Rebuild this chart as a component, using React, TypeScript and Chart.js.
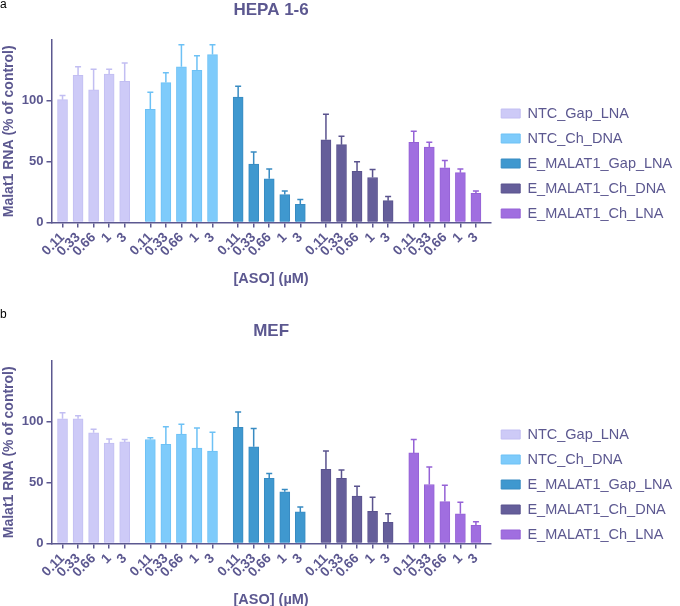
import React, { useEffect, useRef } from 'react';
import { Chart, registerables } from 'chart.js';

Chart.register(...registerables);

// dose labels and series
const doses = ['0.11', '0.33', '0.66', '1', '3'];
const seriesNames = ['NTC_Gap_LNA', 'NTC_Ch_DNA', 'E_MALAT1_Gap_LNA', 'E_MALAT1_Ch_DNA', 'E_MALAT1_Ch_LNA'];
const yTickValues = [0, 50, 100];

// panel a: HEPA 1-6 (mean, upper error)
const hepaMeans = [
  [101, 121, 109, 122, 116],
  [93, 115, 128, 125, 138],
  [103, 48, 36, 23, 15],
  [68, 64, 42, 37, 18],
  [66, 62, 45, 41, 24],
];
const hepaErrors = [
  [3.5, 7, 17, 4, 15],
  [14, 8, 18, 12, 8],
  [9, 10, 8, 3, 4],
  [21, 7, 8, 6.5, 3.5],
  [9, 4, 6, 3, 2],
];

// panel b: MEF
const mefMeans = [
  [102.5, 102.5, 91, 82.5, 83.5],
  [85.5, 81.5, 90, 78.5, 76],
  [95.5, 79.5, 53.5, 42.5, 26],
  [61, 53.5, 39, 26.5, 17.5],
  [74.5, 48.5, 34.5, 24.5, 15],
];
const mefErrors = [
  [5, 2.5, 3, 3.5, 2],
  [1.5, 14.5, 8, 16.5, 15.5],
  [12.5, 15, 4, 2, 4],
  [15, 7, 8, 11.5, 7],
  [11, 14.5, 13.5, 9.5, 3],
];

const barColors = ['#cdcaf7', '#7ecbfb', '#3f98cf', '#655e9a', '#a06ee0'];
const barBorders = ['#c2bef2', '#6dc1f5', '#388bc2', '#5a538e', '#9562d6'];
const INK = '#5c5890';
const FONT = "'Liberation Sans', Arial, Helvetica, sans-serif";
const GROUP_STRIDE = 5.65; // slots between first bars of neighbouring groups

const errorBarPlugin = {
  id: 'errorBars',
  afterDatasetsDraw(chart: any) {
    const { ctx } = chart;
    const yScale = chart.scales.y;
    chart.data.datasets.forEach((ds: any, i: number) => {
      const meta = chart.getDatasetMeta(i);
      ctx.save();
      ctx.strokeStyle = ds.borderColor;
      ctx.lineWidth = 1.5;
      meta.data.forEach((bar: any, j: number) => {
        const top = yScale.getPixelForValue(ds.data[j].y + ds.errors[j]);
        ctx.beginPath();
        ctx.moveTo(bar.x, bar.y);
        ctx.lineTo(bar.x, top);
        ctx.moveTo(bar.x - 3, top);
        ctx.lineTo(bar.x + 3, top);
        ctx.stroke();
      });
      ctx.restore();
    });
  },
};

interface PanelProps {
  title: string;
  means: number[][];
  errors: number[][];
  top: number;
}

function Panel({ title, means, errors, top }: PanelProps) {
  const canvasRef = useRef<HTMLCanvasElement>(null);

  useEffect(() => {
    if (!canvasRef.current) return;
    const ctx = canvasRef.current.getContext('2d');
    if (!ctx) return;

    const datasets = seriesNames.map((name, g) => ({
      label: name,
      data: means[g].map((v, i) => ({ x: g * GROUP_STRIDE + i, y: v })),
      errors: errors[g],
      backgroundColor: barColors[g],
      borderColor: barBorders[g],
      borderWidth: 1,
      barThickness: 10,
      grouped: false,
    }));
    const tickPositions = seriesNames.flatMap((_, g) => doses.map((_d, i) => g * GROUP_STRIDE + i));

    const chart = new Chart(ctx, {
      type: 'bar',
      data: { datasets } as any,
      plugins: [errorBarPlugin],
      options: {
        responsive: false,
        animation: false,
        layout: { padding: { left: 0, right: -2.25, top: 0, bottom: 2 } },
        plugins: {
          title: {
            display: true,
            text: title,
            fullSize: false,
            color: INK,
            font: { family: FONT, size: 17, weight: 'bold' },
            padding: { top: 0, bottom: 19.6 },
          },
          legend: {
            position: 'right',
            align: 'center',
            maxWidth: 240,
            // empty title only pushes the item block down to where the figure has it
            title: { display: true, text: '', padding: { top: 24.6, bottom: 0 }, font: { size: 12 } },
            labels: {
              boxWidth: 19,
              boxHeight: 9,
              padding: 10.5,
              color: INK,
              font: { family: FONT, size: 14.5 },
            },
          },
          tooltip: { enabled: false },
        },
        scales: {
          x: {
            type: 'linear',
            min: -0.71,
            max: 27.55,
            offset: false,
            afterBuildTicks: (axis: any) => {
              axis.ticks = tickPositions.map((value) => ({ value }));
            },
            ticks: {
              autoSkip: false,
              minRotation: 45,
              maxRotation: 45,
              padding: 2,
              color: INK,
              font: { family: FONT, size: 13.5, weight: 'bold' },
              callback: (_v: any, index: number) => doses[index % doses.length],
            },
            grid: { drawOnChartArea: false, offset: false, tickLength: 5, color: INK, lineWidth: 1.5 },
            border: { color: INK, width: 1.5 },
            title: {
              display: true,
              text: '[ASO] (µM)',
              color: INK,
              font: { family: FONT, size: 14.5, weight: 'bold' },
              padding: { top: 9, bottom: 0 },
            },
          },
          y: {
            min: 0,
            max: 150,
            afterBuildTicks: (axis: any) => {
              axis.ticks = yTickValues.map((value) => ({ value }));
            },
            ticks: {
              padding: 3,
              color: INK,
              font: { family: FONT, size: 13, weight: 'bold' },
            },
            grid: { drawOnChartArea: false, tickLength: 5, color: INK, lineWidth: 1.5 },
            border: { color: INK, width: 1.5 },
            title: {
              display: true,
              text: 'Malat1 RNA (% of control)',
              color: INK,
              font: { family: FONT, size: 14, weight: 'bold' },
              padding: { top: 1, bottom: 1 },
            },
          },
        },
      } as any,
    });

    return () => {
      chart.destroy();
    };
  }, [title, means, errors]);

  return (
    <canvas
      ref={canvasRef}
      width={680}
      height={290}
      style={{ position: 'absolute', left: 0, top, width: 680, height: 290 }}
    />
  );
}

export default function App() {
  const letter: React.CSSProperties = {
    position: 'absolute',
    left: 0,
    fontFamily: FONT,
    fontSize: 12,
    lineHeight: '12px',
    color: '#000',
  };
  return (
    <div style={{ position: 'absolute', left: 0, top: 0, width: 680, height: 606, overflow: 'hidden', background: '#fff' }}>
      <Panel title="HEPA 1-6" means={hepaMeans} errors={hepaErrors} top={0} />
      <Panel title="MEF" means={mefMeans} errors={mefErrors} top={321} />
      <div style={{ ...letter, top: -2 }}>a</div>
      <div style={{ ...letter, top: 308 }}>b</div>
    </div>
  );
}
